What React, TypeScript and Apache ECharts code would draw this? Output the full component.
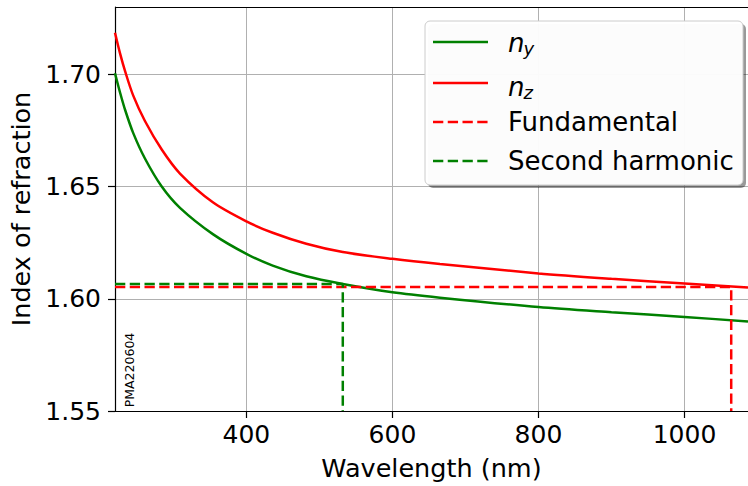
import React, { useEffect, useRef } from "react";
import * as echarts from "echarts";

const wavelengths = [220, 227, 234, 245, 261, 284, 309, 354, 400, 436, 482, 532, 600, 665, 800, 900, 1000, 1087];
const nY = [1.7005, 1.6918, 1.684, 1.6738, 1.6625, 1.650, 1.6405, 1.6288, 1.620, 1.6148, 1.610, 1.6066, 1.6029, 1.6005, 1.5963, 1.594, 1.5919, 1.5899];
const nZ = [1.7185, 1.7092, 1.7012, 1.6905, 1.6792, 1.6665, 1.6558, 1.643, 1.6345, 1.6294, 1.6245, 1.6208, 1.6178, 1.6155, 1.6113, 1.6089, 1.6068, 1.605];

const fundamentalWl = 1064;
const fundamentalN = 1.6053;
const harmonicWl = 532;
const harmonicN = 1.6066;

const xTicks = [400, 600, 800, 1000];
const yTicks = [1.55, 1.6, 1.65, 1.7];

const X_MIN = 220;
const X_MAX = 1087;
const Y_MIN = 1.55;
const Y_MAX = 1.73;

const FONT = "DejaVu Sans";
const GREEN = "#008000";
const RED = "#ff0000";
const DASH = [10.3, 4.45];

export default function App() {
  const ref = useRef<HTMLDivElement>(null);
  useEffect(() => {
    if (!ref.current) return;
    const chart = echarts.init(ref.current, undefined, { renderer: "svg" });
    const pair = (ys: number[]) => wavelengths.map((w, i) => [w, ys[i]]);
    const legendRows = [
      { y: 42, color: GREEN, dash: false },
      { y: 83, color: RED, dash: false },
      { y: 122, color: RED, dash: true },
      { y: 161, color: GREEN, dash: true },
    ];
    const graphic: any[] = [
      {
        type: "line",
        z: 50,
        shape: { x1: 115, y1: 7.5, x2: 748, y2: 7.5 },
        style: { stroke: "#000", lineWidth: 1.2 },
      },
      {
        type: "text",
        z: 50,
        x: 129,
        y: 370,
        rotation: Math.PI / 2,
        style: {
          text: "PMA220604",
          font: `12.5px "${FONT}"`,
          fill: "#000",
          align: "center",
          verticalAlign: "middle",
        },
      },
      {
        type: "rect",
        z: 99,
        shape: { x: 428, y: 24, width: 318, height: 164, r: 5 },
        style: { fill: "rgba(0,0,0,0.4)" },
      },
      {
        type: "rect",
        z: 100,
        shape: { x: 425, y: 21, width: 318, height: 164, r: 5 },
        style: { fill: "rgba(255,255,255,0.97)", stroke: "#cccccc", lineWidth: 1 },
      },
      ...legendRows.map((r) => ({
        type: "line",
        z: 101,
        shape: { x1: 433, y1: r.y, x2: 488, y2: r.y },
        style: { stroke: r.color, lineWidth: 2.5, lineDash: r.dash ? DASH : null },
      })),
      {
        type: "text", z: 101, x: 508, y: 42.5,
        style: { text: "n", font: `italic 26px "${FONT}"`, fill: "#000", verticalAlign: "middle" },
      },
      {
        type: "text", z: 101, x: 523.5, y: 48,
        style: { text: "y", font: `italic 18px "${FONT}"`, fill: "#000", verticalAlign: "middle" },
      },
      {
        type: "text", z: 101, x: 508, y: 86.5,
        style: { text: "n", font: `italic 26px "${FONT}"`, fill: "#000", verticalAlign: "middle" },
      },
      {
        type: "text", z: 101, x: 523.5, y: 92,
        style: { text: "z", font: `italic 18px "${FONT}"`, fill: "#000", verticalAlign: "middle" },
      },
      {
        type: "text", z: 101, x: 508, y: 122,
        style: { text: "Fundamental", font: `26px "${FONT}"`, fill: "#000", verticalAlign: "middle" },
      },
      {
        type: "text", z: 101, x: 508, y: 161,
        style: { text: "Second harmonic", font: `26px "${FONT}"`, fill: "#000", verticalAlign: "middle" },
      },
    ];

    chart.setOption({
      animation: false,
      backgroundColor: "#fff",
      textStyle: { fontFamily: FONT },
      grid: { left: 115, right: 0, top: 7, bottom: 72, containLabel: false },
      legend: { show: false },
      xAxis: {
        type: "value",
        min: X_MIN,
        max: X_MAX,
        name: "Wavelength (nm)",
        nameLocation: "middle",
        nameGap: 44,
        nameTextStyle: { fontSize: 25.5, color: "#000", fontFamily: FONT },
        axisLine: { show: true, onZero: false, lineStyle: { color: "#000", width: 1.2 } },
        axisTick: { show: true, length: 7, customValues: xTicks, lineStyle: { color: "#000", width: 1.2 } },
        axisLabel: {
          customValues: xTicks,
          fontSize: 25,
          color: "#000",
          fontFamily: FONT,
          margin: 11,
          formatter: (v: number) => String(v),
        },
        splitLine: { show: true, lineStyle: { color: "#b0b0b0", width: 1 } },
      },
      yAxis: {
        type: "value",
        min: Y_MIN,
        max: Y_MAX,
        name: "Index of refraction",
        nameLocation: "middle",
        nameGap: 73,
        nameTextStyle: { fontSize: 25.5, color: "#000", fontFamily: FONT },
        axisLine: { show: true, onZero: false, lineStyle: { color: "#000", width: 1.2 } },
        axisTick: { show: true, length: 7, customValues: yTicks, lineStyle: { color: "#000", width: 1.2 } },
        axisLabel: {
          customValues: yTicks,
          fontSize: 25,
          color: "#000",
          fontFamily: FONT,
          margin: 14,
          formatter: (v: number) => v.toFixed(2),
        },
        splitLine: { show: true, lineStyle: { color: "#b0b0b0", width: 1 } },
      },
      series: [
        {
          name: "n_y",
          type: "line",
          data: pair(nY),
          smooth: 0.3,
          showSymbol: false,
          lineStyle: { color: GREEN, width: 2.5 },
          itemStyle: { color: GREEN },
        },
        {
          name: "n_z",
          type: "line",
          data: pair(nZ),
          smooth: 0.3,
          showSymbol: false,
          lineStyle: { color: RED, width: 2.5 },
          itemStyle: { color: RED },
        },
        {
          name: "Fundamental",
          type: "line",
          data: [
            [X_MIN, fundamentalN],
            [fundamentalWl, fundamentalN],
            [fundamentalWl, Y_MIN],
          ],
          showSymbol: false,
          lineStyle: { color: RED, width: 2.5, type: DASH },
          itemStyle: { color: RED },
        },
        {
          name: "Second harmonic",
          type: "line",
          data: [
            [X_MIN, harmonicN],
            [harmonicWl, harmonicN],
            [harmonicWl, Y_MIN],
          ],
          showSymbol: false,
          lineStyle: { color: GREEN, width: 2.5, type: DASH },
          itemStyle: { color: GREEN },
        },
      ],
      graphic,
    });
    return () => chart.dispose();
  }, []);
  return (
    <div
      ref={ref}
      style={{ position: "fixed", left: 0, top: 0, width: 748, height: 486, background: "#fff" }}
    />
  );
}
